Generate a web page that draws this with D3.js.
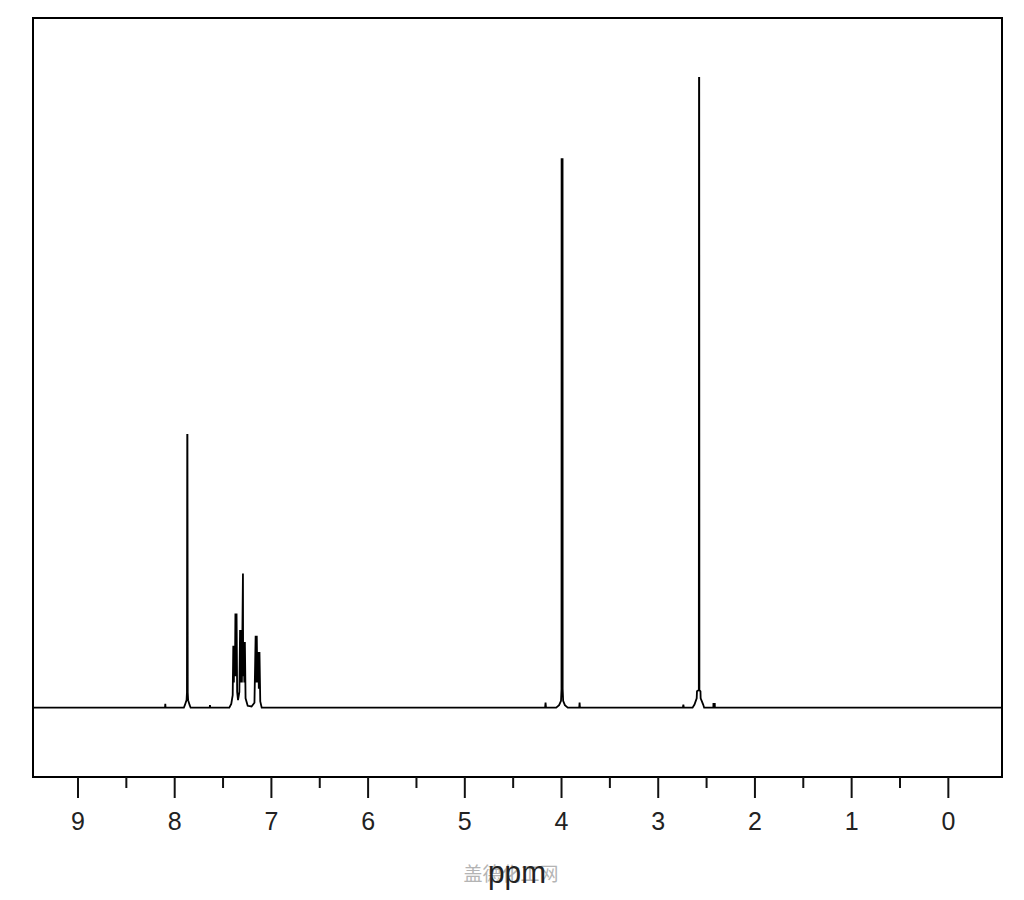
<!DOCTYPE html>
<html>
<head>
<meta charset="utf-8">
<script src="https://cdn.jsdelivr.net/npm/d3@7"></script>
<style>
  html, body { margin: 0; padding: 0; background: #ffffff; }
  svg { display: block; }
</style>
</head>
<body>
<svg id="chart" width="1024" height="900"></svg>
<script>
// ---- data ----
// chemical shift (ppm) of each trace point, descending
const shifts = [
  9.46,
  8.095, 8.092, 8.089,
  7.90, 7.89, 7.872, 7.868, 7.865, 7.863, 7.860, 7.856, 7.84, 7.83,
  7.633, 7.630, 7.627,
  7.43, 7.41, 7.395,
  7.389, 7.387, 7.383, 7.379, 7.377, 7.372,
  7.367, 7.365, 7.361, 7.357, 7.355, 7.349,
  7.340,
  7.326, 7.319, 7.317, 7.313, 7.309, 7.307, 7.300,
  7.289, 7.287,
  7.281, 7.279, 7.275, 7.271, 7.269, 7.262,
  7.24, 7.20, 7.17,
  7.158, 7.156, 7.152, 7.148, 7.146, 7.140,
  7.131, 7.129, 7.125, 7.120, 7.118, 7.110, 7.095,
  4.165, 4.160, 4.155,
  4.05, 4.02, 4.00, 3.995, 3.994, 3.984, 3.983, 3.978, 3.96, 3.93,
  3.812, 3.808, 3.804,
  2.74, 2.735, 2.730,
  2.64, 2.62, 2.597, 2.594, 2.575, 2.573, 2.571, 2.569, 2.558, 2.556, 2.53, 2.52,
  2.425, 2.424, 2.41, 2.409,
  -0.56
];
// relative intensity of each trace point (tallest peak = 100)
const intensities = [
  0,
  0, 0.6, 0,
  0, 0.4, 1.2, 2.4, 43.3, 43.3, 2.4, 1.2, 0.4, 0,
  0, 0.4, 0,
  0, 0.6, 2,
  9.7, 9.7, 4, 9.7, 9.7, 5,
  14.8, 14.8, 5, 14.8, 14.8, 2.5,
  1.2,
  2.5, 12.2, 12.2, 4, 12.2, 12.2, 4,
  21.3, 5,
  10.3, 10.3, 4, 10.3, 10.3, 1.5,
  0.3, 0.2, 0.8,
  11.3, 11.3, 4, 11.3, 11.3, 4,
  8.7, 8.7, 3, 8.7, 8.7, 1, 0,
  0, 0.8, 0,
  0, 0.4, 1.1, 3, 87.1, 87.1, 3, 1.1, 0.4, 0,
  0, 0.8, 0,
  0, 0.5, 0,
  0, 0.5, 1.5, 2.6, 2.8, 100, 100, 2.8, 2.6, 1.5, 0.5, 0,
  0, 0.6, 0.6, 0,
  0
];
const majorTicks = [9, 8, 7, 6, 5, 4, 3, 2, 1, 0];
const majorTickLabels = ["9", "8", "7", "6", "5", "4", "3", "2", "1", "0"];
const minorTicks = [8.5, 7.5, 6.5, 5.5, 4.5, 3.5, 2.5, 1.5, 0.5];
const xDomain = [9.46, -0.56];
const yDomain = [-11, 109.5];
const axisTitle = "ppm";
const watermark = "盖德化工网";

// ---- layout ----
const frame = { left: 33, right: 1002, top: 18, bottom: 777 };
const svg = d3.select("#chart");

const x = d3.scaleLinear().domain(xDomain).range([frame.left, frame.right]);
const y = d3.scaleLinear().domain(yDomain).range([frame.bottom, frame.top]);

svg.append("defs").append("clipPath").attr("id", "plotclip")
  .append("rect")
  .attr("x", frame.left).attr("y", frame.top)
  .attr("width", frame.right - frame.left)
  .attr("height", frame.bottom - frame.top);

// spectrum trace
const pts = shifts.map((s, i) => [s, intensities[i]]);
const line = d3.line().x(d => x(d[0])).y(d => y(d[1]));
svg.append("path")
  .attr("clip-path", "url(#plotclip)")
  .attr("d", line(pts))
  .attr("fill", "none")
  .attr("stroke", "#000")
  .attr("stroke-width", 1.8)
  .attr("stroke-linejoin", "miter");

// frame
svg.append("rect")
  .attr("x", frame.left).attr("y", frame.top)
  .attr("width", frame.right - frame.left)
  .attr("height", frame.bottom - frame.top)
  .attr("fill", "none")
  .attr("stroke", "#000")
  .attr("stroke-width", 2);

// bottom axis
const axisG = svg.append("g").attr("transform", `translate(0,${frame.bottom})`);
const majorAxis = d3.axisBottom(x)
  .tickValues(majorTicks)
  .tickSize(21)
  .tickPadding(14)
  .tickFormat((d, i) => majorTickLabels[i]);
axisG.call(majorAxis);
axisG.select(".domain").remove();
axisG.selectAll(".tick line").attr("stroke", "#111").attr("stroke-width", 2);
axisG.selectAll(".tick text")
  .attr("fill", "#222")
  .attr("font-family", "'Liberation Sans', 'DejaVu Sans', sans-serif")
  .attr("font-size", 25);

const minorG = svg.append("g").attr("transform", `translate(0,${frame.bottom})`);
const minorAxis = d3.axisBottom(x).tickValues(minorTicks).tickSize(11).tickFormat("");
minorG.call(minorAxis);
minorG.select(".domain").remove();
minorG.selectAll(".tick line").attr("stroke", "#111").attr("stroke-width", 2);

// watermark (overlaps the axis title in the reference)
svg.append("text")
  .attr("x", 511).attr("y", 881)
  .attr("text-anchor", "middle")
  .attr("font-family", "'Noto Sans CJK SC', sans-serif")
  .attr("font-size", 19)
  .attr("fill", "#b4b4b4")
  .text(watermark);

// axis title
svg.append("text")
  .attr("x", 517).attr("y", 883)
  .attr("text-anchor", "middle")
  .attr("font-family", "'Liberation Sans', 'DejaVu Sans', sans-serif")
  .attr("font-size", 32)
  .attr("fill", "#222")
  .attr("textLength", 58)
  .attr("lengthAdjust", "spacingAndGlyphs")
  .text(axisTitle);
</script>
</body>
</html>
